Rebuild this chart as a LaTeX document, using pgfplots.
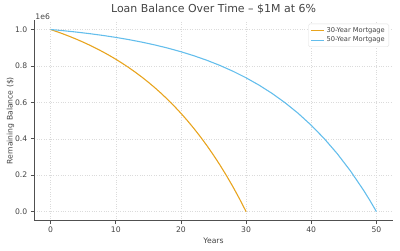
\documentclass[border=0pt]{standalone}
\usepackage{pgfplots}
\pgfplotsset{compat=1.18}
\usepackage{fontspec}
\setmainfont{DejaVu Sans}
\definecolor{c30}{RGB}{232,164,30}
\definecolor{c50}{RGB}{100,190,236}
\definecolor{txt}{RGB}{68,68,68}
\definecolor{spine}{RGB}{80,80,80}
\begin{document}
\begin{tikzpicture}
\begin{axis}[
  name=main,
  scale only axis,
  width=358.4bp, height=200.3bp,
  xmin=-2.5, xmax=52.5,
  ymin=-50000, ymax=1050000,
  axis x line*=bottom, axis y line*=left,
  axis line style={spine, line width=0.8pt, -},
  xtick={0,10,20,30,40,50},
  ytick={0,200000,400000,600000,800000,1000000},
  scaled y ticks=base 10:-6,
  ytick scale label code/.code={},
  yticklabel style={/pgf/number format/fixed, /pgf/number format/fixed zerofill, /pgf/number format/precision=1},
  /pgf/number format/assume math mode=true,
  tick align=outside,
  major tick length=3.5bp,
  tick style={spine, line width=0.6pt},
  ticklabel style={font=\fontsize{7.7}{9}\selectfont, text=txt},
  xticklabel style={yshift=0.5bp},
  grid=major,
  major grid style={dotted, gray!28, line width=0.4pt},
  title={Loan Balance Over Time – \$1M at 6\%},
  title style={font=\fontsize{11}{13}\selectfont, text=txt, yshift=-3bp},
  xlabel={Years},
  ylabel={Remaining Balance (\$)},
  label style={font=\fontsize{7.7}{9}\selectfont, text=txt},
  xlabel style={yshift=2bp},
  ylabel style={yshift=-6bp},
  legend style={at={(rel axis cs:0.9897,0.9835)}, anchor=north east, draw=gray!25, rounded corners=1.5pt, fill=white, font=\fontsize{6.7}{8}\selectfont, text=txt, inner xsep=2bp, inner ysep=1.5bp, row sep=-1bp},
  legend cell align=left,
  legend image code/.code={\draw[#1] (0bp,0bp) -- (13bp,0bp);},
  clip=false,
]
\addplot[c30, line width=1.1pt] coordinates {
(0,1000000) (1,987720) (2,974680) (3,960840) (4,946150) (5,930540) (6,913980)
(7,896390) (8,877720) (9,857900) (10,836860) (11,814510) (12,790790) (13,765610)
(14,738870) (15,710490) (16,680350) (17,648360) (18,614390) (19,578320) (20,540040)
(21,499390) (22,456230) (23,410410) (24,361770) (25,310120) (26,255290) (27,197080)
(28,135280) (29,69660) (30,0)
};
\addlegendentry{30-Year Mortgage}
\addplot[c50, line width=1.1pt] coordinates {
(0,1000000) (2,993280) (4,985720) (6,977180) (8,967570) (10,956730) (12,944510)
(14,930740) (16,915220) (18,897720) (20,878000) (22,855770) (24,830720) (26,802470)
(28,770650) (30,734760) (32,694320) (34,648730) (36,597350) (38,539430) (40,474150)
(42,400570) (44,317630) (46,224150) (48,118770) (49,61170) (50,0)
};
\addlegendentry{50-Year Mortgage}
\end{axis}
\node[anchor=south west, inner sep=1bp, font=\fontsize{7.7}{9}\selectfont, text=txt] at (main.north west) {1e6};
\pgfresetboundingbox
\path[use as bounding box] ([xshift=-34.3bp,yshift=-29.3bp]main.south west) rectangle ([xshift=7.3bp,yshift=20.4bp]main.north east);
\end{tikzpicture}
\end{document}
